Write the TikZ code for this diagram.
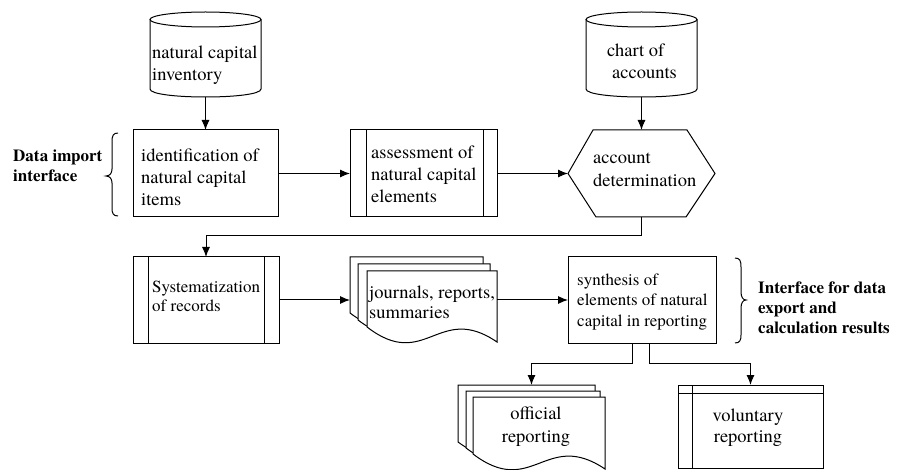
\documentclass[tikz,border=0pt]{standalone}
\usepackage{fontspec}
\setmainfont{TeX Gyre Termes}
\usetikzlibrary{arrows.meta,calc}

% drum (stored data): left, right, top, bottom
\newcommand{\drum}[4]{%
  \pgfmathsetmacro\drumcx{(#1+#2)/2}%
  \pgfmathsetmacro\drumrx{(#2-#1)/2}%
  \draw[outline] (\drumcx,#3+7.5) ellipse[x radius=\drumrx, y radius=7.5];
  \draw[outline] (#1,#3+7.5) -- (#1,#4-8)
     .. controls (#1,#4+2.67) and (#2,#4+2.67) .. (#2,#4-8) -- (#2,#3+7.5);
}
% one document sheet with a wavy lower edge: left, top, right, bottom
\newcommand{\docpage}[4]{%
  \pgfmathsetmacro\pagea{#1+0.55*(#3-#1)}%
  \pgfmathsetmacro\pageb{#1+0.45*(#3-#1)}%
  \filldraw[sheet] (#1,#2) -- (#3,#2) -- (#3,#4)
     .. controls (\pagea,#4-40) and (\pageb,#4+30) .. (#1,#4-15) -- cycle;
}

\begin{document}
\begin{tikzpicture}[x=1pt,y=-1pt,
  outline/.style={draw=black,line width=1pt},
  sheet/.style={outline,fill=white},
  holder/.style={inner sep=0pt,outer sep=0pt,draw=none},
  flow/.style={line width=1pt,-{Latex[length=10pt,width=8pt]}},
  bracket/.style={line width=1pt},
  lbl/.style={inner sep=0pt,align=left,font=\fontsize{18.5}{22}\selectfont},
  note/.style={inner sep=0pt,align=left,font=\bfseries\fontsize{17}{20}\selectfont},
]
\useasboundingbox (0,0) rectangle (902,470);

% ---------- row 1 ----------
\node[holder,minimum width=111pt,minimum height=85pt] (inventory) at (205.5,54.5) {};
\drum{150}{261}{12}{97}
\node[lbl,anchor=west] (inventory-t) at (152,65) {natural capital\\inventory};

\node[holder,minimum width=111pt,minimum height=85pt] (chart) at (641.5,54.5) {};
\drum{586}{697}{12}{97}
\node[lbl,anchor=west] (chart-t) at (607,61) {chart of\\\hspace*{5pt}accounts};

\node[holder,outline,minimum width=145pt,minimum height=87pt] (ident) at (205.5,173.5) {};
\node[lbl,anchor=west] (ident-t) at (141,177) {identification of\\natural capital\\items};

\node[holder,outline,minimum width=147pt,minimum height=87pt] (assess) at (423.5,173.5) {};
\draw[outline] ([xshift=16pt]assess.north west) -- ([xshift=16pt]assess.south west);
\draw[outline] ([xshift=-14pt]assess.north east) -- ([xshift=-14pt]assess.south east);
\node[lbl,anchor=west] (assess-t) at (371,174) {assessment of\\natural capital\\elements};

\node[holder,minimum width=147pt,minimum height=87pt] (acct) at (641.5,173.5) {};
\draw[outline] ([xshift=25pt]acct.north west) -- ([xshift=-28pt]acct.north east)
  -- (acct.east) -- ([xshift=-29pt]acct.south east) -- ([xshift=28pt]acct.south west)
  -- (acct.west) -- cycle;
\node[lbl,anchor=west,font=\fontsize{18.5}{23}\selectfont] (acct-t) at (593,170) {account\\determination};

% left brace and its note
\draw[bracket] (118,133) .. controls (113,133) and (112,136) .. (112,142)
  -- (112,169) .. controls (112,173) and (110,176) .. (106,176)
  .. controls (110,176) and (112,179) .. (112,183)
  -- (112,208) .. controls (112,213) and (113,216) .. (118,216);
\node[note,anchor=west] (import-t) at (13,166) {Data import\\interface};

% ---------- row 2 ----------
\node[holder,outline,minimum width=146pt,minimum height=86pt] (sys) at (206,300) {};
\draw[outline] ([xshift=15pt]sys.north west) -- ([xshift=15pt]sys.south west);
\draw[outline] ([xshift=-15pt]sys.north east) -- ([xshift=-15pt]sys.south east);
\node[lbl,anchor=west,font=\fontsize{17}{19.5}\selectfont] (sys-t) at (152,296.5) {Systematization\\of records};

\node[holder,minimum width=147pt,minimum height=85pt] (journals) at (423.5,300) {};
\docpage{350}{257}{483}{328}
\docpage{358}{264}{490}{335}
\docpage{367}{271}{497}{342}
\node[lbl,anchor=west,font=\fontsize{18.5}{20}\selectfont] (journals-t) at (369,302) {journals, reports,\\summaries};

\node[holder,outline,minimum width=148pt,minimum height=86pt] (synth) at (642,300) {};
\node[lbl,anchor=west,font=\fontsize{17}{20.5}\selectfont] (synth-t) at (577,302) {synthesis of\\elements of natural\\capital in reporting};

% right brace and its note
\draw[bracket] (735,258) .. controls (740,258) and (741,261) .. (741,267)
  -- (741,292) .. controls (741,297) and (743,300) .. (746,300)
  .. controls (743,300) and (741,303) .. (741,308)
  -- (741,335) .. controls (741,340) and (740,343) .. (735,343);
\node[note,anchor=west] (export-t) at (758,308) {Interface for data\\export and\\calculation results};

% ---------- row 3 ----------
\node[holder,minimum width=147pt,minimum height=84pt] (official) at (531.5,427) {};
\docpage{458}{385}{595}{457}
\docpage{466}{391}{600}{463}
\docpage{473}{397}{605}{469}
\node[lbl,align=center,font=\fontsize{18.5}{23}\selectfont] (official-t) at (536,427) {official\\reporting};

\node[holder,outline,minimum width=145pt,minimum height=83pt] (voluntary) at (750.5,426.5) {};
\draw[outline] ([xshift=14pt]voluntary.north west) -- ([xshift=14pt]voluntary.south west);
\draw[outline] ([yshift=-8pt]voluntary.north west) -- ([yshift=-8pt]voluntary.north east);
\node[lbl,align=center,font=\fontsize{18.5}{21}\selectfont] (voluntary-t) at (748,428) {voluntary\\reporting};

% ---------- connectors ----------
\draw[flow] (inventory.south) -- (ident.north);
\draw[flow] (chart.south) -- (acct.north);
\draw[flow] (ident.east) -- (assess.west);
\draw[flow] (assess.east) -- (acct.west);
\draw[flow] (acct.south) -- ++(0,19) -| (sys.north);
\draw[flow] (sys.east) -- (journals.west);
\draw[flow] (journals.east) -- (synth.west);
\draw[flow] ([xshift=-10pt]synth.south) -- ++(0,20) -| (official.north);
\draw[flow] ([xshift=7pt]synth.south) -- ++(0,20) -| (voluntary.north);
\end{tikzpicture}
\end{document}
